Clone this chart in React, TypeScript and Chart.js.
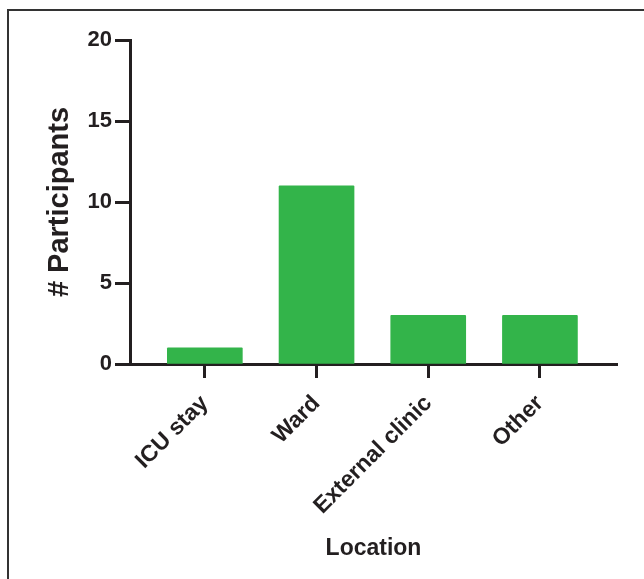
import React, { useEffect, useRef } from "react";
import { Chart, registerables } from "chart.js";

Chart.register(...registerables);

const categories = ["ICU stay", "Ward", "External clinic", "Other"];
const participants = [1, 11, 3, 3];
const yTicks = [0, 5, 10, 15, 20];

const INK = "#231f20";
const BAR = "rgb(51,180,74)";
const FONT = "'Liberation Sans', Arial, sans-serif";

export default function App() {
  const ref = useRef<HTMLCanvasElement | null>(null);

  useEffect(() => {
    if (!ref.current) return;
    const chart = new Chart(ref.current, {
      type: "bar",
      data: {
        datasets: [
          {
            data: categories.map((_, i) => ({ x: i, y: participants[i] })),
            backgroundColor: BAR,
            borderWidth: 0,
            barThickness: 75,
            borderRadius: 1,
          },
        ],
      },
      options: {
        animation: false,
        responsive: false,
        maintainAspectRatio: false,
        layout: { padding: { top: 40, right: 27, left: 0, bottom: 0 } },
        plugins: { legend: { display: false }, tooltip: { enabled: false } },
        scales: {
          x: {
            type: "linear",
            min: -0.67,
            max: 3.69,
            offset: false,
            afterBuildTicks: (axis: any) => {
              axis.ticks = categories.map((_, i) => ({ value: i }));
            },
            afterFit: (s: any) => {
              s.height = 215;
            },
            grid: {
              offset: false,
              drawOnChartArea: false,
              drawTicks: true,
              tickLength: 14,
              tickWidth: 3,
              tickColor: INK,
            },
            border: { display: true, color: INK, width: 3 },
            ticks: {
              autoSkip: false,
              maxRotation: 45,
              minRotation: 45,
              padding: 12,
              color: INK,
              font: { family: FONT, size: 23, weight: "bold" },
              callback: (v: any) => categories[v as number] ?? "",
            },
            title: {
              display: true,
              text: "Location",
              color: INK,
              font: { family: FONT, size: 23, weight: "bold" },
              padding: { top: 0, bottom: 17 },
            },
          },
          y: {
            min: 0,
            max: 20,
            afterBuildTicks: (axis: any) => {
              axis.ticks = yTicks.map((v) => ({ value: v }));
            },
            afterFit: (s: any) => {
              s.width = 130;
            },
            grid: {
              drawOnChartArea: false,
              drawTicks: true,
              tickLength: 15,
              tickWidth: 3,
              tickColor: INK,
            },
            border: { display: true, color: INK, width: 3 },
            ticks: {
              padding: 3,
              color: INK,
              font: { family: FONT, size: 22, weight: "bold" },
            },
            title: {
              display: true,
              text: "# Participants",
              color: INK,
              font: { family: FONT, size: 29, weight: "bold" },
              padding: { top: 43, bottom: 0 },
            },
          },
        },
      },
    });
    return () => chart.destroy();
  }, []);

  return (
    <div
      style={{
        position: "absolute",
        left: 0,
        top: 0,
        width: 644,
        height: 579,
        overflow: "hidden",
        background: "#fff",
      }}
    >
      <div
        style={{
          position: "absolute",
          left: 7,
          top: 9,
          width: 637,
          height: 570,
          boxSizing: "border-box",
          borderTop: "2px solid #333",
          borderLeft: "2px solid #333",
        }}
      />
      <canvas
        ref={ref}
        width={644}
        height={579}
        style={{ position: "absolute", left: 0, top: 0, width: 644, height: 579 }}
      />
    </div>
  );
}
